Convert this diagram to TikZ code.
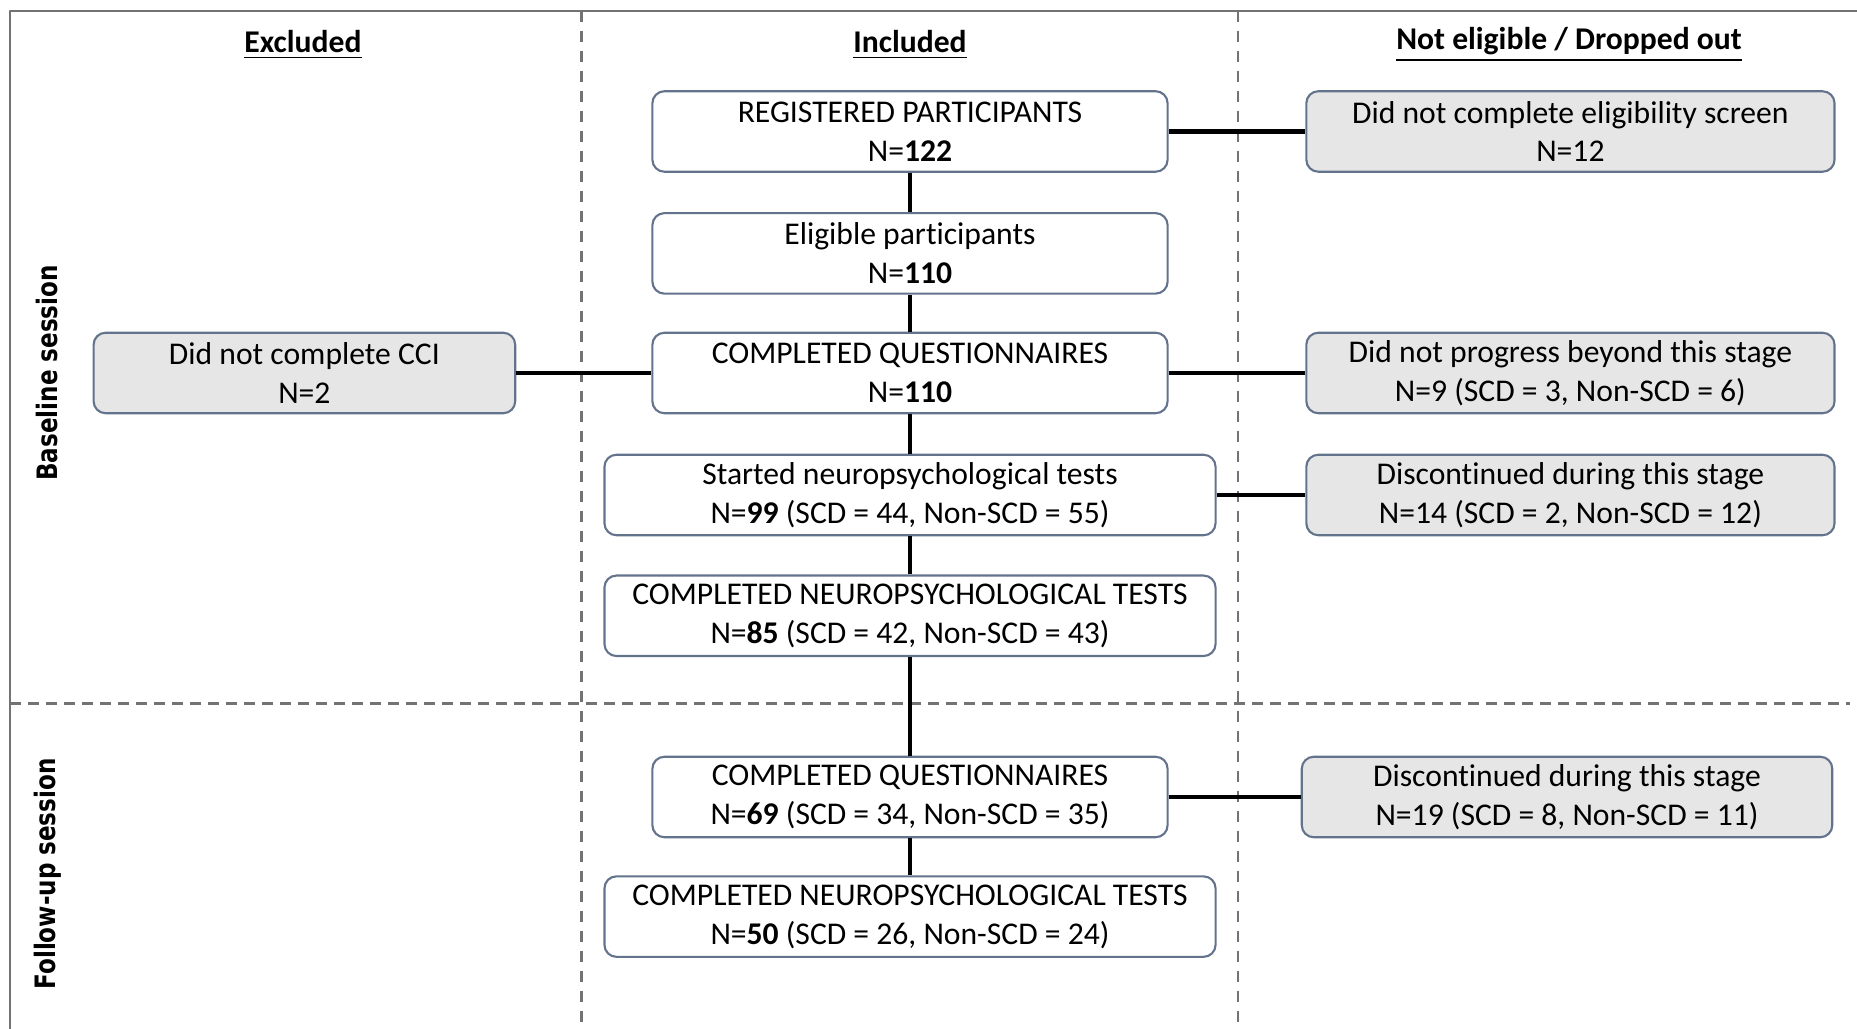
\documentclass[tikz,border=0pt]{standalone}
\usepackage{fontspec}
\setmainfont{Carlito}[Ligatures=NoCommon]
\newfontfamily\sidefont{DejaVu Sans}
\usetikzlibrary{positioning}
\definecolor{boxline}{RGB}{100,115,140}
\definecolor{boxgray}{RGB}{230,230,230}
\definecolor{sepgray}{RGB}{115,115,115}
\begin{document}
\begin{tikzpicture}[line cap=round, line join=round, font=\fontsize{9}{11}\selectfont]
	\tikzset{stage/.style={draw=boxline, line width=0.6pt, rounded corners=1.2mm, align=center, minimum height=0.805cm, inner sep=0pt},
		narrow/.style={stage, minimum width=5.152cm},
		wide/.style={stage, minimum width=6.111cm},
		drop/.style={stage, fill=boxgray, minimum width=5.282cm},
		head/.style={font=\fontsize{9}{11}\selectfont\bfseries},
		session/.style={rotate=90, font=\sidefont\fontsize{8}{9}\selectfont\bfseries},
		link/.style={line width=1.4pt, line cap=butt},
		sep/.style={sepgray, line width=0.6pt, line cap=butt, dash pattern=on 1.1mm off 0.9mm}}
	\useasboundingbox (0,0) rectangle (18.57,-10.29);
	% frame and separators
	\draw[sepgray, line width=0.6pt] (18.57,-0.11)--(0.10,-0.11)--(0.10,-10.29);
	\draw[sep] (5.815,-0.11)--(5.815,-10.29);
	\draw[sep] (12.376,-0.11)--(12.376,-10.29);
	\draw[sep, line width=1pt, dash pattern=on 1.1mm off 0.7mm] (0.10,-7.035)--(18.50,-7.035);
	% column heads and sessions
	\node[head] (hexcl) at (3.03,-0.45) {\underline{Excluded}};
	\node[head] (hincl) at (9.10,-0.45) {\underline{Included}};
	\node[head] (hdrop) at (15.69,-0.45) {\underline{Not eligible / Dropped out}};
	\node[session] (base) at (0.474,-3.73) {\scalebox{0.82}[1]{Baseline session}};
	\node[session] (follow) at (0.474,-8.74) {\scalebox{0.82}[1]{Follow-up session}};
	% included
	\node[narrow] (reg) at (9.10,-1.315) {REGISTERED PARTICIPANTS\\N=\textbf{122}};
	\node[narrow] (elig) at (9.10,-2.534) {Eligible participants\\N=\textbf{110}};
	\node[narrow] (quest) at (9.10,-3.730) {COMPLETED QUESTIONNAIRES\\N=\textbf{110}};
	\node[wide] (start) at (9.10,-4.950) {Started neuropsychological tests\\N=\textbf{99} (SCD = 44, Non-SCD = 55)};
	\node[wide] (neuro) at (9.10,-6.158) {COMPLETED NEUROPSYCHOLOGICAL TESTS\\N=\textbf{85} (SCD = 42, Non-SCD = 43)};
	\node[narrow] (fquest) at (9.10,-7.970) {COMPLETED QUESTIONNAIRES\\N=\textbf{69} (SCD = 34, Non-SCD = 35)};
	\node[wide] (fneuro) at (9.10,-9.166) {COMPLETED NEUROPSYCHOLOGICAL TESTS\\N=\textbf{50} (SCD = 26, Non-SCD = 24)};
	% excluded and dropped out
	\node[drop, minimum width=4.216cm] (nocci) at (3.044,-3.730) {Did not complete CCI\\N=2};
	\node[drop] (noscreen) at (15.704,-1.315) {Did not complete eligibility screen\\N=12};
	\node[drop] (noprog) at (15.704,-3.730) {Did not progress beyond this stage\\N=9 (SCD = 3, Non-SCD = 6)};
	\node[drop] (disc) at (15.704,-4.950) {Discontinued during this stage\\N=14 (SCD = 2, Non-SCD = 12)};
	\node[drop, minimum width=5.305cm] (fdisc) at (15.67,-7.970) {Discontinued during this stage\\N=19 (SCD = 8, Non-SCD = 11)};
	\foreach \a/\b in {reg/elig, elig/quest, quest/start, start/neuro, neuro/fquest, fquest/fneuro, reg/noscreen, nocci/quest, quest/noprog, start/disc, fquest/fdisc}
		\draw[link] (\a)--(\b);
\end{tikzpicture}
\end{document}
